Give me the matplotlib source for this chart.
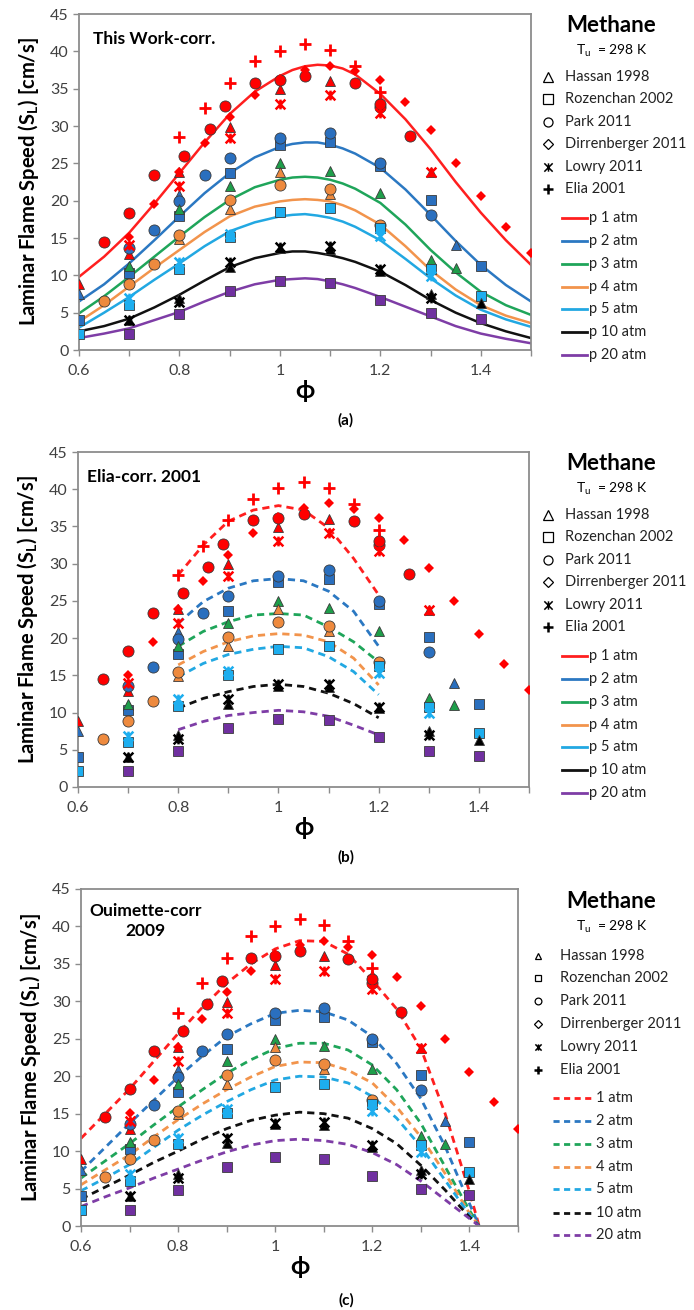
import numpy as np
import matplotlib
matplotlib.use("Agg")
import matplotlib.pyplot as plt
from matplotlib.path import Path
from matplotlib.ticker import MultipleLocator, FuncFormatter

plt.rcParams['font.family'] = ['Lato', 'DejaVu Sans']

# ---------------- experimental points (same in all three panels) ----------------
# 1 atm
hassan_phi_1 = [0.6, 0.7, 0.8, 0.9, 1.0, 1.1, 1.2, 1.3]
hassan_sl_1 = [8.9, 12.9, 23.9, 29.9, 34.9, 36.0, 33.5, 23.8]
park_phi_1 = [0.65, 0.7, 0.75, 0.81, 0.86, 0.89, 0.95, 1.0, 1.05, 1.15, 1.2, 1.2, 1.26]
park_sl_1 = [14.5, 18.3, 23.4, 26.0, 29.6, 32.7, 35.8, 36.1, 36.7, 35.7, 32.5, 33.0, 28.6]
dirr_phi_1 = [0.7, 0.75, 0.8, 0.85, 0.9, 0.95, 1.0, 1.05, 1.1, 1.15, 1.2, 1.25, 1.3, 1.35, 1.4, 1.45, 1.5]
dirr_sl_1 = [15.1, 19.5, 23.9, 27.7, 31.2, 34.1, 36.3, 37.5, 38.1, 37.3, 36.2, 33.2, 29.4, 25.0, 20.6, 16.5, 13.0]
lowry_phi_1 = [0.7, 0.8, 0.9, 1.0, 1.1, 1.2, 1.3]
lowry_sl_1 = [14.0, 22.0, 28.4, 33.0, 34.1, 31.7, 23.8]
elia_phi_1 = [0.8, 0.85, 0.9, 0.95, 1.0, 1.05, 1.1, 1.15, 1.2]
elia_sl_1 = [28.5, 32.4, 35.8, 38.7, 40.1, 41.0, 40.2, 38.0, 34.5]
# 2 atm
hassan_phi_2 = [0.6, 0.7, 0.8, 1.35]
hassan_sl_2 = [7.5, 11.0, 20.8, 14.0]
rozen_phi_2 = [0.6, 0.7, 0.8, 0.9, 1.0, 1.1, 1.2, 1.3, 1.4]
rozen_sl_2 = [4.0, 10.3, 17.9, 23.7, 27.5, 27.9, 24.6, 20.1, 11.2]
park_phi_2 = [0.7, 0.75, 0.8, 0.85, 0.9, 1.0, 1.1, 1.2, 1.3]
park_sl_2 = [13.6, 16.1, 19.9, 23.4, 25.7, 28.4, 29.1, 25.0, 18.1]
# 3 atm
hassan_phi_3 = [0.7, 0.8, 0.9, 1.0, 1.1, 1.2, 1.3, 1.35]
hassan_sl_3 = [11.2, 18.9, 22.0, 25.0, 24.0, 21.0, 12.0, 11.0]
# 4 atm
hassan_phi_4 = [0.8, 0.9, 1.0, 1.1]
hassan_sl_4 = [14.9, 18.9, 23.9, 20.9]
park_phi_4 = [0.65, 0.7, 0.75, 0.8, 0.9, 1.0, 1.1, 1.2]
park_sl_4 = [6.5, 8.9, 11.5, 15.4, 20.1, 22.1, 21.6, 16.8]
# 5 atm
rozen_phi_5 = [0.6, 0.7, 0.8, 0.9, 1.0, 1.1, 1.2, 1.3, 1.4]
rozen_sl_5 = [2.2, 6.0, 10.9, 15.1, 18.5, 19.0, 16.3, 10.8, 7.2]
lowry_phi_5 = [0.7, 0.8, 0.9, 1.2, 1.3]
lowry_sl_5 = [6.9, 11.8, 15.6, 15.3, 9.9]
# 10 atm
hassan_phi_10 = [0.7, 0.8, 0.9, 1.0, 1.1, 1.2, 1.3, 1.4]
hassan_sl_10 = [4.0, 7.0, 11.1, 13.6, 13.5, 10.6, 7.5, 6.3]
lowry_phi_10 = [0.7, 0.8, 0.9, 1.0, 1.1, 1.2, 1.3]
lowry_sl_10 = [4.0, 6.4, 11.8, 13.8, 13.9, 10.8, 7.0]
# 20 atm
rozen_phi_20 = [0.7, 0.8, 0.9, 1.0, 1.1, 1.2, 1.3, 1.4]
rozen_sl_20 = [2.2, 4.8, 7.9, 9.2, 9.0, 6.7, 4.9, 4.2]

# ---------------- correlation curves ----------------
# (a) This Work-corr.
fit_phi_a = [0.6, 0.65, 0.7, 0.75, 0.8, 0.85, 0.9, 0.95, 1.0, 1.025, 1.05, 1.075, 1.1, 1.125,
             1.15, 1.2, 1.25, 1.3, 1.35, 1.4, 1.45, 1.5]
fit_a_1 = [9.8, 12.5, 15.7, 19.6, 23.7, 27.8, 31.6, 34.6, 36.7, 37.5, 38.0, 38.2, 38.1, 37.7,
           36.9, 34.3, 30.9, 26.9, 22.5, 18.4, 14.7, 11.4]
fit_a_2 = [6.5, 8.8, 11.6, 14.7, 17.9, 21.0, 23.7, 25.8, 27.2, 27.6, 27.8, 27.8, 27.5, 27.0,
           26.3, 24.4, 21.5, 18.1, 14.6, 11.4, 8.7, 6.5]
fit_a_3 = [4.9, 7.2, 9.8, 12.5, 15.2, 17.8, 20.1, 21.8, 22.8, 23.1, 23.2, 23.1, 22.8, 22.3,
           21.6, 19.7, 16.8, 13.4, 10.4, 7.8, 6.0, 4.7]
fit_a_4 = [3.8, 6.0, 8.5, 11.0, 13.4, 15.8, 17.9, 19.2, 19.9, 20.1, 20.2, 20.1, 19.9, 19.4,
           18.7, 16.8, 13.9, 10.7, 8.1, 6.0, 4.6, 3.6]
fit_a_5 = [3.0, 5.0, 7.1, 9.4, 11.6, 13.9, 15.9, 17.1, 17.9, 18.1, 18.2, 18.0, 17.7, 17.2,
           16.5, 14.7, 12.2, 9.6, 7.3, 5.4, 4.1, 3.1]
fit_a_10 = [2.5, 3.2, 4.2, 5.7, 7.4, 9.3, 11.1, 12.3, 13.0, 13.2, 13.2, 13.0, 12.7, 12.3,
            11.8, 10.5, 8.7, 6.7, 5.0, 3.6, 2.5, 1.6]
fit_a_20 = [1.6, 2.2, 2.9, 4.0, 5.1, 6.5, 7.8, 8.8, 9.4, 9.5, 9.6, 9.5, 9.2, 8.8,
            8.3, 7.1, 5.8, 4.5, 3.2, 2.2, 1.5, 0.9]

# (b) Elia-corr. 2001
fit_phi_b = [0.8, 0.85, 0.9, 0.95, 1.0, 1.05, 1.1, 1.15, 1.2]
fit_b_1 = [28.5, 32.5, 35.7, 37.2, 37.8, 37.2, 34.8, 30.7, 25.8]
fit_b_2 = [22.0, 24.9, 26.7, 27.7, 28.0, 27.7, 26.3, 23.6, 18.9]
fit_b_3 = [18.9, 20.9, 22.2, 23.1, 23.3, 23.1, 21.5, 19.5, 16.8]
fit_b_4 = [16.4, 18.2, 19.5, 20.3, 20.6, 20.4, 19.5, 17.3, 13.7]
fit_b_5 = [14.8, 16.6, 17.8, 18.5, 18.9, 18.7, 17.5, 15.5, 12.4]
fit_b_10 = [10.6, 11.9, 12.8, 13.5, 13.8, 13.5, 12.6, 11.2, 9.3]
fit_b_20 = [7.7, 8.8, 9.6, 10.0, 10.3, 10.1, 9.5, 8.3, 7.0]

# (c) Ouimette-corr 2009
fit_phi_c = [0.6, 0.65, 0.7, 0.75, 0.8, 0.85, 0.9, 0.95, 1.0, 1.05, 1.1, 1.15, 1.2, 1.25, 1.3, 1.35, 1.4, 1.42]
fit_c_1 = [11.7, 15.0, 18.3, 22.0, 25.7, 29.2, 32.4, 35.0, 37.0, 38.1, 38.0, 36.3, 32.8, 29.0, 23.7, 15.0, 4.6, 0.0]
fit_c_2 = [7.3, 10.5, 13.7, 16.8, 19.9, 22.7, 25.3, 27.0, 28.4, 28.8, 28.6, 27.5, 25.3, 21.7, 17.0, 10.6, 3.0, 0.0]
fit_c_3 = [6.4, 8.7, 11.0, 13.5, 15.9, 18.2, 20.4, 22.2, 23.7, 24.4, 24.4, 23.5, 21.5, 18.2, 13.7, 7.9, 2.1, 0.0]
fit_c_4 = [5.5, 7.5, 9.5, 11.9, 14.2, 16.3, 18.2, 19.9, 21.3, 21.9, 21.8, 20.8, 19.1, 15.9, 11.9, 7.0, 1.7, 0.0]
fit_c_5 = [4.7, 6.4, 8.2, 10.5, 12.8, 14.8, 16.6, 18.2, 19.5, 20.0, 19.9, 19.1, 17.3, 14.4, 10.6, 6.1, 1.5, 0.0]
fit_c_10 = [3.6, 5.2, 6.8, 8.5, 10.0, 11.6, 13.0, 14.1, 14.8, 15.2, 15.0, 14.4, 13.0, 11.0, 8.1, 4.8, 1.2, 0.0]
fit_c_20 = [2.6, 3.9, 5.1, 6.4, 7.6, 8.8, 9.9, 10.8, 11.4, 11.6, 11.4, 10.9, 9.8, 8.2, 6.0, 3.5, 1.0, 0.0]

pressures = ['1', '2', '3', '4', '5', '10', '20']
sources = ['Hassan 1998', 'Rozenchan 2002', 'Park 2011', 'Dirrenberger 2011', 'Lowry 2011', 'Elia 2001']

# colours
point_col = {'1': '#FF0000', '2': '#2A6FBE', '3': '#1E9E4A', '4': '#EE8A3E',
             '5': '#1DAEEF', '10': '#000000', '20': '#7030A0'}
line_col = {'1': '#FF1F1F', '2': '#2B78C2', '3': '#1FA55A', '4': '#F2944C',
            '5': '#22A8E2', '10': '#111111', '20': '#7E3DA6'}

# Lowry marker: X with a vertical bar
lowry_marker = Path([(-1, -1), (1, 1), (-1, 1), (1, -1), (0, -1), (0, 1)],
                    [Path.MOVETO, Path.LINETO, Path.MOVETO, Path.LINETO, Path.MOVETO, Path.LINETO])

styles = {
    'hassan': dict(marker='^', ms=7.5, mec='#3a3a3a', mew=0.6),
    'rozen': dict(marker='s', ms=7, mec='#3a3a3a', mew=0.6),
    'park': dict(marker='o', ms=8, mec='#3a3a3a', mew=0.6),
    'dirr': dict(marker='D', ms=5.2, mec='none', mew=0),
    'lowry': dict(marker=lowry_marker, ms=7, mew=1.8),
    'elia': dict(marker='+', ms=8.5, mew=2.0),
}

point_series = [
    ('hassan', '1', hassan_phi_1, hassan_sl_1),
    ('park', '1', park_phi_1, park_sl_1),
    ('dirr', '1', dirr_phi_1, dirr_sl_1),
    ('lowry', '1', lowry_phi_1, lowry_sl_1),
    ('elia', '1', elia_phi_1, elia_sl_1),
    ('hassan', '2', hassan_phi_2, hassan_sl_2),
    ('rozen', '2', rozen_phi_2, rozen_sl_2),
    ('park', '2', park_phi_2, park_sl_2),
    ('hassan', '3', hassan_phi_3, hassan_sl_3),
    ('hassan', '4', hassan_phi_4, hassan_sl_4),
    ('park', '4', park_phi_4, park_sl_4),
    ('rozen', '5', rozen_phi_5, rozen_sl_5),
    ('lowry', '5', lowry_phi_5, lowry_sl_5),
    ('hassan', '10', hassan_phi_10, hassan_sl_10),
    ('lowry', '10', lowry_phi_10, lowry_sl_10),
    ('rozen', '20', rozen_phi_20, rozen_sl_20),
]

fits = {
    'a': (fit_phi_a, [fit_a_1, fit_a_2, fit_a_3, fit_a_4, fit_a_5, fit_a_10, fit_a_20]),
    'b': (fit_phi_b, [fit_b_1, fit_b_2, fit_b_3, fit_b_4, fit_b_5, fit_b_10, fit_b_20]),
    'c': (fit_phi_c, [fit_c_1, fit_c_2, fit_c_3, fit_c_4, fit_c_5, fit_c_10, fit_c_20]),
}

W, H = 694, 1310
fig = plt.figure(figsize=(W / 100, H / 100), dpi=100)


def px_axes(left, right, top, bottom):
    return fig.add_axes([left / W, 1 - bottom / H, (right - left) / W, (bottom - top) / H])


def draw_panel(ax, key, dashed):
    phi, curves = fits[key]
    for p, sl in zip(pressures, curves):
        if dashed:
            ax.plot(phi, sl, color=line_col[p], lw=2.0, dashes=(2.6, 1.8), zorder=2)
        else:
            ax.plot(phi, sl, color=line_col[p], lw=1.8, zorder=2, solid_joinstyle='round')
    for src, p, x, y in point_series:
        st = dict(styles[src])
        c = point_col[p]
        if src in ('lowry', 'elia'):
            ax.plot(x, y, ls='none', color=c, mec=c, zorder=4, **st)
        elif src == 'dirr':
            ax.plot(x, y, ls='none', color=c, mfc=c, zorder=3, **st)
        else:
            ax.plot(x, y, ls='none', mfc=c, zorder=3, **st)
    ax.set_xlim(0.6, 1.5)
    ax.set_ylim(0, 45)
    ax.xaxis.set_major_locator(MultipleLocator(0.2))
    ax.xaxis.set_minor_locator(MultipleLocator(0.1))
    ax.xaxis.set_major_formatter(FuncFormatter(lambda v, pos: '%g' % round(v, 2)))
    ax.yaxis.set_major_locator(MultipleLocator(5))
    ax.tick_params(which='both', direction='out', length=4, width=1, color='#8c8c8c',
                   labelsize=11.5, labelcolor='#404040')
    ax.tick_params(axis='x', which='major', pad=6)
    for s in ax.spines.values():
        s.set_color('#8c8c8c')
        s.set_linewidth(1.3)
    ax.set_ylabel('Laminar Flame Speed (S$_\\mathregular{L}$) [cm/s]', fontsize=14.5,
                  fontweight='bold', labelpad=6)
    ax.set_xlabel('ϕ', fontsize=18, fontweight='bold', labelpad=1)


ax_a = px_axes(79, 531, 14, 350)
draw_panel(ax_a, 'a', False)
ax_a.text(0.03, 0.926, 'This Work-corr.', transform=ax_a.transAxes, fontsize=12.5,
          fontweight='bold', va='center', ha='left')

ax_b = px_axes(78, 529, 452, 787)
draw_panel(ax_b, 'b', True)
ax_b.text(0.02, 0.926, 'Elia-corr. 2001', transform=ax_b.transAxes, fontsize=12.5,
          fontweight='bold', va='center', ha='left')

ax_c = px_axes(81, 518, 889, 1226)
draw_panel(ax_c, 'c', True)
ax_c.text(0.148, 0.958, 'Ouimette-corr\n2009', transform=ax_c.transAxes, fontsize=12.5,
          fontweight='bold', va='top', ha='center', multialignment='center', linespacing=1.3)

for lab, y in [('(a)', 420), ('(b)', 857), ('(c)', 1300)]:
    fig.text(346 / W, 1 - y / H, lab, ha='center', va='center', fontsize=11, fontweight='bold')

# ---------------- side legends (drawn on a full-figure overlay in pixel units) ----------------
lg = fig.add_axes([0, 0, 1, 1])
lg.set_xlim(0, W)
lg.set_ylim(H, 0)
lg.axis('off')

legend_markers = [
    dict(marker='^', ms=6.5, mfc='none', mec='k', mew=0.9),
    dict(marker='s', ms=6.5, mfc='none', mec='k', mew=0.9),
    dict(marker='o', ms=6.5, mfc='none', mec='k', mew=0.9),
    dict(marker='D', ms=5.2, mfc='none', mec='k', mew=0.9),
    dict(marker=lowry_marker, ms=6, mec='k', mew=1.1),
    dict(marker='+', ms=7, mec='k', mew=1.8),
]


def side_legend(meth_y, tu_y, sym_x, txt_x, mrows, ln_x0, ln_x1, ln_txt, lrows, dashed, prefix, msc):
    lg.text(611, meth_y, 'Methane', fontsize=16, fontweight='bold', ha='center', va='center')
    lg.text(612, tu_y, 'T$_\\mathregular{u}$  = 298 K', fontsize=10, ha='center', va='center')
    for st, name, yy in zip(legend_markers, sources, mrows):
        s = dict(st)
        s['ms'] = s['ms'] * msc
        lg.plot([sym_x], [yy], ls='none', **s)
        lg.text(txt_x, yy, name, fontsize=10.5, ha='left', va='center', color='#222222')
    for p, yy in zip(pressures, lrows):
        if dashed:
            lg.plot([ln_x0, ln_x1], [yy, yy], color=line_col[p], lw=2, dashes=(2.2, 1.6))
        else:
            lg.plot([ln_x0, ln_x1], [yy, yy], color=line_col[p], lw=2)
        lg.text(ln_txt, yy, prefix + p + ' atm', fontsize=10.5, ha='left', va='center',
                color='#222222')


rows_a = [77, 99, 122, 144, 167, 189]
lines_a = [218, 241, 264, 287, 309, 332, 355]
side_legend(25, 51, 548, 565, rows_a, 562, 587, 589, lines_a, False, 'p ', 1.0)
side_legend(25 + 438, 51 + 438, 548, 565, [r + 438 for r in rows_a], 562, 587, 589,
            [r + 438 for r in lines_a], False, 'p ', 1.0)
side_legend(901, 927, 538, 560, [956, 978, 1001, 1024, 1047, 1070], 553, 593, 596,
            [1098, 1121, 1144, 1167, 1189, 1213, 1235], True, '', 0.75)

fig.savefig('out.png', dpi=100)
